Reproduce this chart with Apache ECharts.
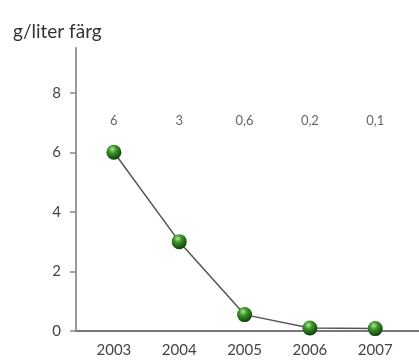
<!DOCTYPE html>
<html>
<head>
<meta charset="utf-8">
<script src="https://cdn.jsdelivr.net/npm/echarts@6/dist/echarts.min.js"></script>
<style>
  html, body { margin: 0; padding: 0; background: #fff; }
  #chart { width: 419px; height: 361px; }
</style>
</head>
<body>
<div id="chart"></div>
<script>
var years = [2003, 2004, 2005, 2006, 2007];
// plotted positions
var values = [6, 3, 0.55, 0.1, 0.08];
// printed value row above the plot
var valueLabels = ["6", "3", "0,6", "0,2", "0,1"];
var yTicks = [0, 2, 4, 6, 8];

var chart = echarts.init(document.getElementById("chart"));

var fontFamily = "Lato, 'Open Sans', sans-serif";

var ball = new echarts.graphic.RadialGradient(0.4, 0.3, 0.7, [
  { offset: 0, color: "#b8e6a0" },
  { offset: 0.35, color: "#3f9a2c" },
  { offset: 1, color: "#0d3d08" }
]);

chart.setOption({
  animation: false,
  title: {
    text: "g/liter färg",
    left: 8,
    top: 17,
    textStyle: { fontFamily: fontFamily, fontSize: 19, fontWeight: "normal", color: "#333" }
  },
  grid: { left: 76, right: 0, top: 48, bottom: 30 },
  xAxis: [
    {
      type: "value",
      min: 2002.42,
      max: 2007.67,
      splitLine: { show: false },
      axisLine: { lineStyle: { color: "#777", width: 2 } },
      axisTick: { show: false },
      axisLabel: {
        customValues: years,
        margin: 12,
        color: "#444",
        fontFamily: fontFamily,
        fontSize: 15,
        formatter: function (v) { return String(v); }
      }
    },
    {
      type: "value",
      position: "top",
      min: 2002.42,
      max: 2007.67,
      splitLine: { show: false },
      axisLine: { show: false },
      axisTick: { show: false },
      axisLabel: {
        customValues: years,
        inside: true,
        margin: 66,
        color: "#666",
        fontFamily: fontFamily,
        fontSize: 13,
        formatter: function (v) { return valueLabels[years.indexOf(v)]; }
      }
    }
  ],
  yAxis: {
    type: "value",
    min: 0,
    max: 9.5,
    splitLine: { show: false },
    axisLine: { show: true, lineStyle: { color: "#999", width: 2 } },
    axisTick: { show: true, customValues: yTicks, length: 6, lineStyle: { color: "#888", width: 1.5 } },
    axisLabel: {
      customValues: yTicks,
      margin: 15,
      color: "#444",
      fontFamily: fontFamily,
      fontSize: 15
    }
  },
  series: [{
    type: "line",
    xAxisIndex: 0,
    data: years.map(function (y, i) { return [y, values[i]]; }),
    symbol: "circle",
    symbolSize: 15,
    lineStyle: { color: "#555", width: 1.5 },
    itemStyle: { color: ball, borderWidth: 0 },
    z: 3
  }]
});
</script>
</body>
</html>
